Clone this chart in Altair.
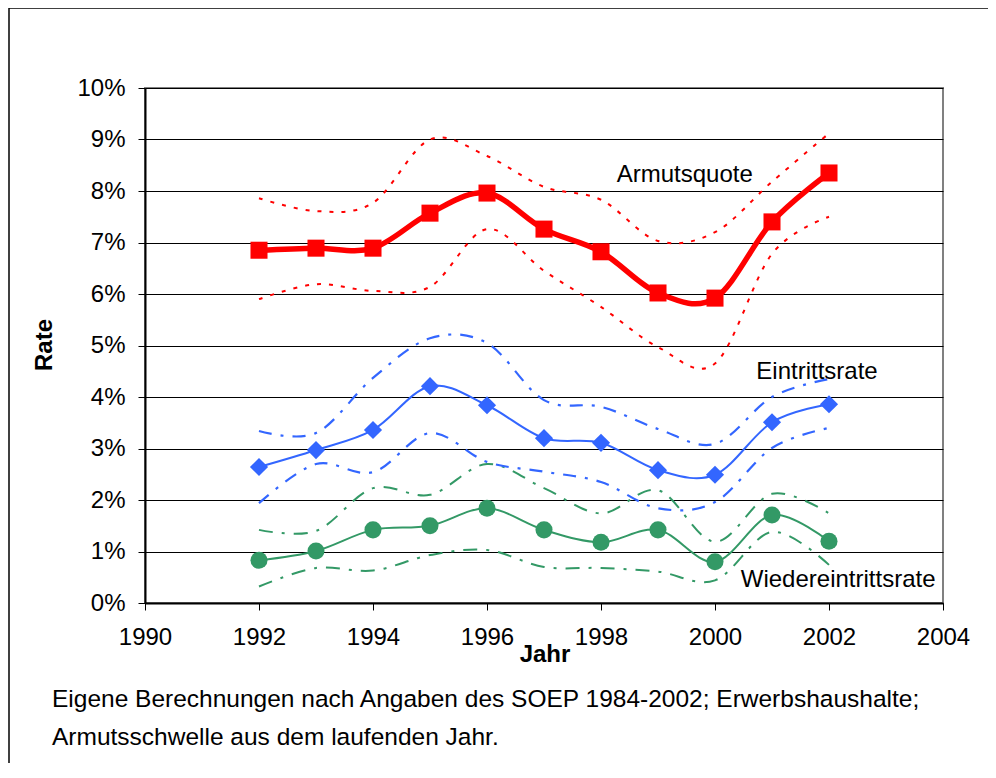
import altair as alt
import pandas as pd

# ---- data (percent) ----
years = [1992, 1993, 1994, 1995, 1996, 1997, 1998, 1999, 2000, 2001, 2002]

armut    = [6.85, 6.89, 6.89, 7.57, 7.96, 7.26, 6.82, 6.02, 5.92, 7.40, 8.35]
armut_hi = [7.86, 7.61, 7.77, 9.00, 8.68, 8.08, 7.83, 7.03, 7.20, 8.18, 9.12]
armut_lo = [5.90, 6.19, 6.06, 6.14, 7.26, 6.45, 5.75, 4.97, 4.65, 6.78, 7.50]

eintritt    = [2.64, 2.97, 3.36, 4.21, 3.84, 3.20, 3.11, 2.58, 2.49, 3.51, 3.86]
eintritt_hi = [3.34, 3.30, 4.37, 5.14, 5.05, 3.94, 3.81, 3.38, 3.09, 4.00, 4.35]
eintritt_lo = [1.94, 2.70, 2.54, 3.30, 2.74, 2.55, 2.35, 1.84, 1.96, 3.01, 3.40]

wieder    = [0.83, 1.01, 1.42, 1.50, 1.84, 1.42, 1.18, 1.42, 0.80, 1.71, 1.20]
wieder_hi = [1.42, 1.40, 2.23, 2.10, 2.70, 2.23, 1.74, 2.19, 1.19, 2.12, 1.74]
wieder_lo = [0.32, 0.68, 0.63, 0.93, 1.03, 0.70, 0.68, 0.61, 0.44, 1.38, 0.74]

x_ticks = [1990, 1992, 1994, 1996, 1998, 2000, 2002, 2004]
y_ticks = [0, 1, 2, 3, 4, 5, 6, 7, 8, 9, 10]

series_names = ["Armutsquote", "Eintrittsrate", "Wiedereintrittsrate"]
label_x = [1999.47, 2001.79, 2002.16]
label_y = [8.31, 4.49, 0.45]

caption1 = "Eigene Berechnungen nach Angaben des SOEP 1984-2002; Erwerbshaushalte;"
caption2 = "Armutsschwelle aus dem laufenden Jahr."

# ---- build tables ----
rows = []
for name, main, hi, lo in [
    ("Armutsquote", armut, armut_hi, armut_lo),
    ("Eintrittsrate", eintritt, eintritt_hi, eintritt_lo),
    ("Wiedereintrittsrate", wieder, wieder_hi, wieder_lo),
]:
    for kind, vals in [("main", main), ("hi", hi), ("lo", lo)]:
        for yr, v in zip(years, vals):
            rows.append({"series": name, "kind": kind, "year": yr, "value": v})
df = pd.DataFrame(rows)
labels_df = pd.DataFrame({"series": series_names, "lx": label_x, "ly": label_y})

FONT = "Liberation Sans"

X = alt.X("year:Q",
          scale=alt.Scale(domain=[1990, 2004], nice=False, zero=False),
          axis=alt.Axis(values=x_ticks, format="d", title=None, grid=False,
                        tickSize=7, tickColor="black", tickWidth=1,
                        domainColor="black", domainWidth=2,
                        labelFontSize=24, labelFont=FONT, labelColor="black",
                        labelPadding=15, labelFlush=False, labelOverlap=False))
Y = alt.Y("value:Q",
          scale=alt.Scale(domain=[0, 10], nice=False),
          axis=alt.Axis(values=y_ticks, labelExpr="datum.value + '%'", title=None,
                        grid=True, gridColor="black", gridWidth=1,
                        tickSize=7, tickColor="black", tickWidth=1,
                        domainColor="black", domainWidth=2,
                        labelFontSize=24, labelFont=FONT, labelColor="black",
                        labelPadding=13, labelOverlap=False))

RED = "#FF0000"
BLUE = "#3366FF"
GREEN = "#339966"


def line(series, kind, color, width, dash=None):
    props = dict(color=color, strokeWidth=width, interpolate="cardinal")
    if dash is not None:
        props["strokeDash"] = dash
    return (alt.Chart(df)
            .transform_filter(f"datum.series == '{series}' && datum.kind == '{kind}'")
            .mark_line(**props)
            .encode(x=X, y=Y))


def points(series, color, shape, size):
    return (alt.Chart(df)
            .transform_filter(f"datum.series == '{series}' && datum.kind == 'main'")
            .mark_point(shape=shape, filled=True, size=size, color=color, opacity=1)
            .encode(x=X, y=Y))


layers = [
    line("Wiedereintrittsrate", "hi", GREEN, 2, [14, 9, 3, 9]),
    line("Wiedereintrittsrate", "lo", GREEN, 2, [14, 9, 3, 9]),
    line("Eintrittsrate", "hi", BLUE, 2.2, [13, 9, 3, 9]),
    line("Eintrittsrate", "lo", BLUE, 2.2, [13, 9, 3, 9]),
    line("Armutsquote", "hi", RED, 2, [4, 8]),
    line("Armutsquote", "lo", RED, 2, [4, 8]),
    line("Wiedereintrittsrate", "main", GREEN, 2),
    line("Eintrittsrate", "main", BLUE, 2),
    line("Armutsquote", "main", RED, 5.5),
    points("Wiedereintrittsrate", GREEN, "circle", 290),
    points("Eintrittsrate", BLUE, "diamond", 330),
    points("Armutsquote", RED, "square", 290),
]

series_labels = (alt.Chart(labels_df)
                 .mark_text(fontSize=24, font=FONT, color="black", align="center", baseline="middle")
                 .encode(x=alt.X("lx:Q"), y=alt.Y("ly:Q"), text="series:N"))

one = pd.DataFrame({"a": [0]})
rate_title = (alt.Chart(one)
              .mark_text(text="Rate", fontSize=24, font=FONT, fontWeight="bold", angle=270,
                         align="center", baseline="middle", color="black")
              .encode(x=alt.value(-100), y=alt.value(257)))
jahr_title = (alt.Chart(one)
              .mark_text(text="Jahr", fontSize=24, font=FONT, fontWeight="bold",
                         align="center", baseline="middle", color="black")
              .encode(x=alt.value(400), y=alt.value(567)))
cap1 = (alt.Chart(one)
        .mark_text(text=caption1, fontSize=24.5, font=FONT, align="left", baseline="middle", color="black")
        .encode(x=alt.value(-93), y=alt.value(612)))
cap2 = (alt.Chart(one)
        .mark_text(text=caption2, fontSize=24.5, font=FONT, align="left", baseline="middle", color="black")
        .encode(x=alt.value(-93), y=alt.value(650)))
frame_left = (alt.Chart(one).mark_rule(color="black", strokeWidth=1.5)
              .encode(x=alt.value(-136), y=alt.value(-80), y2=alt.value(675)))
frame_top = (alt.Chart(one).mark_rule(color="black", strokeWidth=1.5)
             .encode(x=alt.value(-136), x2=alt.value(843), y=alt.value(-80)))

chart = (alt.layer(*layers, series_labels, rate_title, jahr_title, cap1, cap2, frame_left, frame_top)
         .properties(width=798, height=515,
                     autosize=alt.AutoSizeParams(type="none"),
                     padding={"left": 137, "top": 80, "right": 45, "bottom": 160},
                     background="white")
         .configure_view(stroke="#808080", strokeWidth=2))

chart.save("out.html", embed_options={"renderer": "svg", "actions": False})
